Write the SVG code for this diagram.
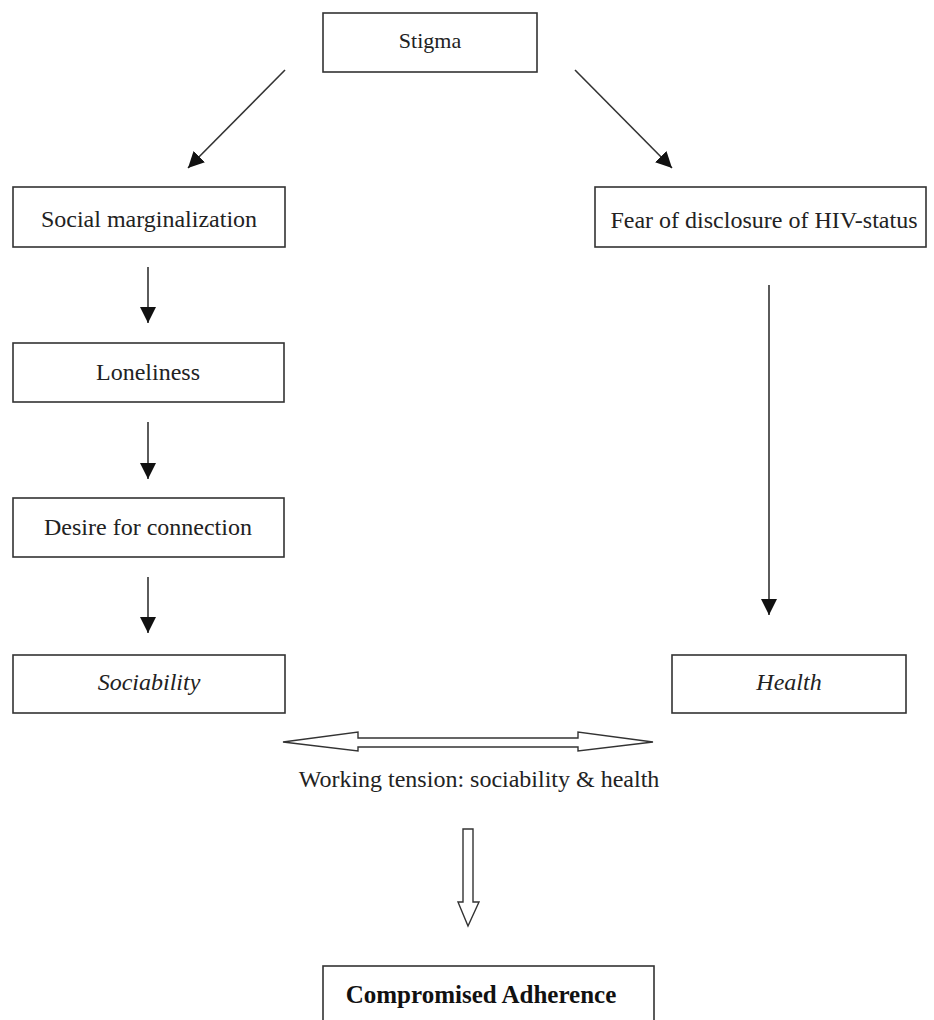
<svg xmlns="http://www.w3.org/2000/svg" width="934" height="1020" viewBox="0 0 934 1020">
<style>
.box{fill:#fff;stroke:#333;stroke-width:1.6}
.t{font-family:"Liberation Serif","Times New Roman",serif;font-size:24px;fill:#222;text-anchor:middle}
.i{font-style:italic}
.b{font-weight:bold;font-size:25px;fill:#111}
.ln{stroke:#333;stroke-width:1.6;fill:none}
.hollow{fill:#fff;stroke:#333;stroke-width:1.4;stroke-linejoin:miter}
</style>
<defs>
<marker id="ah" viewBox="0 0 16 16" refX="16" refY="8" markerWidth="16" markerHeight="16" markerUnits="userSpaceOnUse" orient="auto">
<path d="M0,0 L16,8 L0,16 z" fill="#111"/>
</marker>
</defs>
<rect width="934" height="1020" fill="#fff"/>
<g id="connectors">
<line class="ln" x1="285" y1="70" x2="188" y2="168" marker-end="url(#ah)"/>
<line class="ln" x1="575" y1="70" x2="672" y2="168" marker-end="url(#ah)"/>
<line class="ln" x1="148" y1="267" x2="148" y2="323" marker-end="url(#ah)"/>
<line class="ln" x1="148" y1="422" x2="148" y2="479" marker-end="url(#ah)"/>
<line class="ln" x1="148" y1="577" x2="148" y2="633" marker-end="url(#ah)"/>
<line class="ln" x1="769" y1="285" x2="769" y2="615" marker-end="url(#ah)"/>
<polygon id="tension-arrow" class="hollow" points="283,742 358,732 358,738 578,738 578,732 653,742 578,751 578,747 358,747 358,751"/>
<polygon id="down-arrow" class="hollow" points="463,829 473,829 473,902 479,902 468,926 458,902 463,902"/>
</g>
<g id="stigma">
<rect class="box" x="323" y="13" width="214" height="59"/>
<text class="t" x="430" y="48" style="font-size:22px">Stigma</text>
</g>
<g id="social-marginalization">
<rect class="box" x="13" y="187" width="272" height="60"/>
<text class="t" x="149" y="227">Social marginalization</text>
</g>
<g id="fear-of-disclosure">
<rect class="box" x="595" y="187" width="331" height="60"/>
<text class="t" x="764" y="228">Fear of disclosure of HIV-status</text>
</g>
<g id="loneliness">
<rect class="box" x="13" y="343" width="271" height="59"/>
<text class="t" x="148" y="380">Loneliness</text>
</g>
<g id="desire-for-connection">
<rect class="box" x="13" y="498" width="271" height="59"/>
<text class="t" x="148" y="535">Desire for connection</text>
</g>
<g id="sociability">
<rect class="box" x="13" y="655" width="272" height="58"/>
<text class="t i" x="149" y="690">Sociability</text>
</g>
<g id="health">
<rect class="box" x="672" y="655" width="234" height="58"/>
<text class="t i" x="789" y="690">Health</text>
</g>
<g id="working-tension">
<text class="t" x="479" y="787">Working tension: sociability &amp; health</text>
</g>
<g id="compromised-adherence">
<rect class="box" x="323" y="966" width="331" height="70"/>
<text class="t b" x="481" y="1003">Compromised Adherence</text>
</g>
</svg>
